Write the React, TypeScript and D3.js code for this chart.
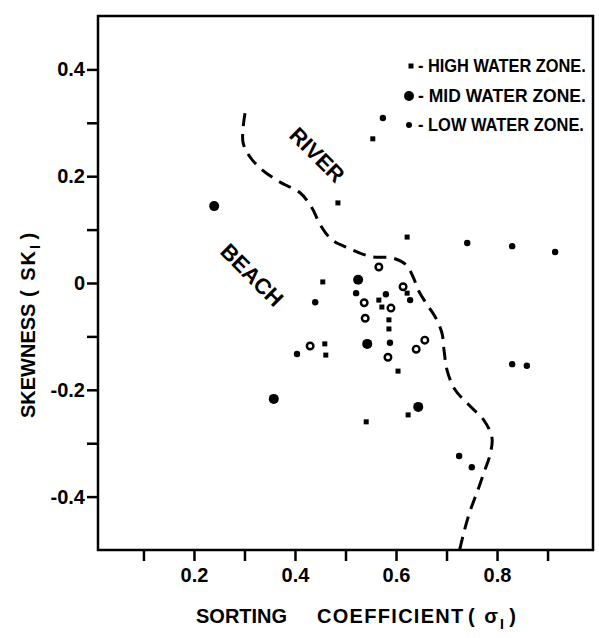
import React, { useEffect, useRef } from 'react';
import * as d3 from 'd3';

// sorting coefficient (x) vs skewness (y)
const highWater: [number, number][] = [
  [0.554, 0.270], [0.485, 0.150], [0.622, 0.086], [0.455, 0.002],
  [0.566, -0.032], [0.572, -0.045], [0.622, -0.019], [0.586, -0.069],
  [0.586, -0.086], [0.459, -0.114], [0.461, -0.135], [0.604, -0.165],
  [0.624, -0.247], [0.541, -0.260],
];

const midWater: [number, number][] = [
  [0.240, 0.144], [0.525, 0.006], [0.543, -0.114], [0.358, -0.217], [0.644, -0.232],
];

// mid water samples printed as open rings
const midWaterOpen: [number, number][] = [
  [0.566, 0.030], [0.537, -0.037], [0.590, -0.047], [0.614, -0.007],
  [0.539, -0.066], [0.430, -0.118], [0.584, -0.139], [0.640, -0.124], [0.657, -0.107],
];

const lowWater: [number, number][] = [
  [0.574, 0.309], [0.741, 0.075], [0.830, 0.069], [0.915, 0.058],
  [0.830, -0.152], [0.859, -0.155], [0.725, -0.324], [0.750, -0.345],
  [0.404, -0.133], [0.521, -0.019], [0.440, -0.036], [0.580, -0.021],
  [0.628, -0.032], [0.588, -0.112],
];

// river / beach dividing line
const boundary: [number, number][] = [
  [0.301, 0.318], [0.297, 0.264], [0.311, 0.236], [0.335, 0.212], [0.370, 0.189],
  [0.410, 0.169], [0.434, 0.140], [0.450, 0.109], [0.473, 0.081], [0.509, 0.064],
  [0.552, 0.049], [0.592, 0.047], [0.620, 0.034], [0.634, 0.011], [0.644, -0.013],
  [0.659, -0.037], [0.679, -0.066], [0.691, -0.094], [0.695, -0.125], [0.701, -0.163],
  [0.717, -0.200], [0.746, -0.230], [0.774, -0.257], [0.790, -0.290], [0.786, -0.322],
  [0.776, -0.350], [0.762, -0.388], [0.746, -0.429], [0.733, -0.472], [0.726, -0.500],
];

const xTicks = [0.1, 0.2, 0.3, 0.4, 0.5, 0.6, 0.7, 0.8, 0.9];
const yTicks = [-0.4, -0.3, -0.2, -0.1, 0, 0.1, 0.2, 0.3, 0.4];
const xLabelled = [0.2, 0.4, 0.6, 0.8];
const yLabelled = [-0.4, -0.2, 0, 0.2, 0.4];

const legendItems = ['HIGH WATER ZONE.', 'MID WATER ZONE.', 'LOW WATER ZONE.'];
const regions = [
  { label: 'RIVER', x: 0.444, y: 0.240 },
  { label: 'BEACH', x: 0.315, y: 0.015 },
];

const FONT = '"Liberation Sans", Arial, sans-serif';

const App = () => {
  const ref = useRef<SVGSVGElement>(null);

  useEffect(() => {
    if (!ref.current) return;
    const svg = d3.select(ref.current);
    svg.selectAll('*').remove();

    const x = d3.scaleLinear().domain([0.01, 0.99]).range([98, 593]);
    const y = d3.scaleLinear().domain([-0.5, 0.5]).range([550, 16]);

    const fmt = (v: number) => (v === 0 ? '0' : (v < 0 ? '-' : '') + Math.abs(v).toFixed(1));

    // axes
    const yAxis = svg.append('g')
      .attr('transform', `translate(${x(0.01)},0)`)
      .call(d3.axisLeft(y).tickValues(yTicks).tickSize(11).tickPadding(2)
        .tickFormat(d => (yLabelled.some(t => Math.abs(t - +d) < 1e-9) ? fmt(+d) : '')));
    const xAxis = svg.append('g')
      .attr('transform', `translate(0,${y(-0.5)})`)
      .call(d3.axisBottom(x).tickValues(xTicks).tickSize(11).tickPadding(7)
        .tickFormat(d => (xLabelled.some(t => Math.abs(t - +d) < 1e-9) ? fmt(+d) : '')));
    [yAxis, xAxis].forEach(g => {
      g.select('.domain').remove();
      g.selectAll('.tick line').attr('stroke', '#000').attr('stroke-width', 2.5);
      g.selectAll('.tick text')
        .attr('fill', '#000')
        .style('font-size', '20px')
        .style('font-weight', 'bold')
        .style('font-family', FONT);
    });

    // frame
    svg.append('rect')
      .attr('x', x(0.01))
      .attr('y', y(0.5))
      .attr('width', x(0.99) - x(0.01))
      .attr('height', y(-0.5) - y(0.5))
      .attr('fill', 'none')
      .attr('stroke', '#000')
      .attr('stroke-width', 2.5);

    // axis titles
    const xt = svg.append('text')
      .attr('y', 623)
      .attr('fill', '#000')
      .style('font-size', '20px')
      .style('font-weight', 'bold')
      .style('font-family', FONT);
    xt.append('tspan').attr('x', 196).text('SORTING');
    xt.append('tspan').attr('x', 317).style('letter-spacing', '1.3px').text('COEFFICIENT');
    xt.append('tspan').attr('x', 468).style('letter-spacing', '2px').text('( σ');
    xt.append('tspan').attr('dy', 6).style('font-size', '14px').text('I');
    xt.append('tspan').attr('dy', -6).text(' )');

    const yt = svg.append('text')
      .attr('transform', 'translate(35,418) rotate(-90)')
      .attr('fill', '#000')
      .style('font-size', '20px')
      .style('font-weight', 'bold')
      .style('font-family', FONT);
    yt.append('tspan').text('SKEWNESS');
    yt.append('tspan').attr('x', 121).style('letter-spacing', '2px').text('( SK');
    yt.append('tspan').attr('dy', 5).style('font-size', '14px').text('I');
    yt.append('tspan').attr('dy', -5).text('  )');

    // river / beach boundary
    const line = d3.line<[number, number]>()
      .x(d => x(d[0]))
      .y(d => y(d[1]))
      .curve(d3.curveCatmullRom);
    svg.append('path')
      .attr('d', line(boundary))
      .attr('fill', 'none')
      .attr('stroke', '#000')
      .attr('stroke-width', 3)
      .attr('stroke-dasharray', '13,8');

    regions.forEach(r => {
      svg.append('text')
        .attr('transform', `translate(${x(r.x)},${y(r.y)}) rotate(45)`)
        .attr('text-anchor', 'middle')
        .attr('dy', '0.35em')
        .attr('fill', '#000')
        .style('font-size', '22px')
        .style('font-weight', 'bold')
        .style('font-family', FONT)
        .text(r.label);
    });

    // points
    const drawSquare = (px: number, py: number, s: number) =>
      svg.append('rect')
        .attr('x', px - s / 2).attr('y', py - s / 2)
        .attr('width', s).attr('height', s)
        .attr('fill', '#000');

    highWater.forEach(d => drawSquare(x(d[0]), y(d[1]), 5));

    svg.append('g').selectAll('circle')
      .data(midWater)
      .enter().append('circle')
      .attr('cx', d => x(d[0])).attr('cy', d => y(d[1])).attr('r', 5)
      .attr('fill', '#000');

    svg.append('g').selectAll('circle')
      .data(midWaterOpen)
      .enter().append('circle')
      .attr('cx', d => x(d[0])).attr('cy', d => y(d[1])).attr('r', 3.3)
      .attr('fill', '#fff').attr('stroke', '#000').attr('stroke-width', 2.4);

    svg.append('g').selectAll('circle')
      .data(lowWater)
      .enter().append('circle')
      .attr('cx', d => x(d[0])).attr('cy', d => y(d[1])).attr('r', 3.2)
      .attr('fill', '#000');

    // legend (squeezed horizontally like the narrow lettering of the original)
    const ly = [66, 96, 125];
    legendItems.forEach((label, i) => {
      if (i === 0) drawSquare(411, ly[i], 5);
      else svg.append('circle').attr('cx', 409).attr('cy', ly[i]).attr('r', i === 1 ? 5 : 3).attr('fill', '#000');
      const t = svg.append('text')
        .attr('dy', '0.35em')
        .attr('fill', '#000')
        .style('font-size', '18px')
        .style('font-weight', 'bold')
        .style('font-family', FONT)
        .text('- ' + label);
      const len = (t.node() as SVGTextElement).getComputedTextLength() || 190;
      const k = Math.min(1, (i === 2 ? 166 : 168) / len);
      t.attr('transform', `translate(418,${ly[i]}) scale(${k},1)`);
    });
  }, []);

  return (
    <svg
      ref={ref}
      width={599}
      height={638}
      style={{ position: 'absolute', left: 0, top: 0, background: '#fff' }}
    />
  );
};

export default App;
